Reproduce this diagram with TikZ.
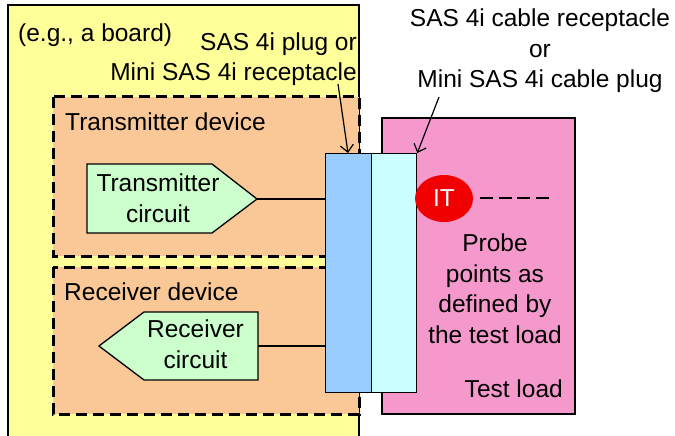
\documentclass[tikz,border=0pt]{standalone}
\usepackage{fontspec}
\setmainfont{Liberation Sans}
\usetikzlibrary{arrows.meta,shapes.geometric}
\definecolor{boardc}{HTML}{FFFF99}
\definecolor{devc}{HTML}{F9C896}
\definecolor{circc}{HTML}{CCFFCC}
\definecolor{plugc}{HTML}{99CCFF}
\definecolor{recc}{HTML}{CCFFFF}
\definecolor{loadc}{HTML}{F599CC}
\definecolor{itred}{HTML}{F00000}
\begin{document}
\begin{tikzpicture}[x=1pt,y=-1pt,
  font=\fontsize{24.5}{30.5}\selectfont,
  devbox/.style={draw, fill=devc, line width=3pt, dash pattern=on 11pt off 6pt},
  solidbox/.style={draw, line width=1.5pt},
  circbox/.style={draw, fill=circc, line width=1.3pt},
  wire/.style={draw, line width=1.3pt},
  callout/.style={draw, line width=1.2pt, -{Straight Barb[length=7pt,width=13pt]}},
  lbl/.style={inner sep=0pt, align=center},
]
\useasboundingbox (0,0) rectangle (675,436);
% board
\path[solidbox, fill=boardc] (8,5) rectangle (359,460);
% devices
\path[devbox] (53,97) rectangle (359,256);
\path[devbox] (53,267) rectangle (359,414);
% test load
\path[solidbox, fill=loadc, line width=1.8pt] (382,118) rectangle (575,414);
% connectors
\node[solidbox, fill=plugc, line width=1.3pt, minimum width=46pt, minimum height=239pt, inner sep=0pt, anchor=north west] (plug) at (325,153) {};
\node[solidbox, fill=recc, line width=1.3pt, minimum width=45pt, minimum height=239pt, inner sep=0pt, anchor=north west] (rec) at (371,153) {};
% circuits
\path[circbox] (87,164) -- (212,164) -- (257,199) -- (212,233) -- (87,233) -- cycle;
\coordinate (txtip) at (257,199);
\path[circbox] (99,346) -- (144,312) -- (258,312) -- (258,380) -- (144,380) -- cycle;
\coordinate (rxend) at (258,346);
\path[wire] (txtip) -- (txtip -| plug.west);
\path[wire] (rxend) -- (rxend -| plug.west);
\node[lbl, anchor=base] (txl) at (158,222) {Transmitter\\circuit};
\node[lbl, anchor=base] (rxl) at (195.5,368) {Receiver\\circuit};
% IT probe
\node[ellipse, fill=itred, minimum width=58pt, minimum height=47pt, inner sep=0pt, text=white] (it) at (444,198.5) {IT};
\coordinate (dashstart) at (480,198);
\coordinate (dashend) at (553,198);
\draw[line width=2.8pt, dash pattern=on 13pt off 5.5pt] (dashstart) -- (dashend);
% labels
\node[lbl, anchor=base west] (board) at (18,42) {(e.g., a board)};
\node[lbl, anchor=base east, align=right] (plugl) at (357,81) {SAS 4i plug or\\Mini SAS 4i receptacle};
\node[lbl, anchor=base] (recl) at (540,88) {SAS 4i cable receptacle\\or\\Mini SAS 4i cable plug};
\node[lbl, anchor=base west] (txd) at (65,130) {Transmitter device};
\node[lbl, anchor=base west] (rxd) at (64,300) {Receiver device};
\node[lbl, anchor=base] (probe) at (495,343) {Probe\\points as\\defined by\\the test load};
\node[lbl, anchor=base east] (tl) at (563,397) {Test load};
% callouts
\coordinate (c1) at (338,84);
\coordinate (c2) at (439,97);
\draw[callout] (c1) -- (plug.north west -| 348,0);
\draw[callout] (c2) -- (rec.north east);
\end{tikzpicture}
\end{document}
